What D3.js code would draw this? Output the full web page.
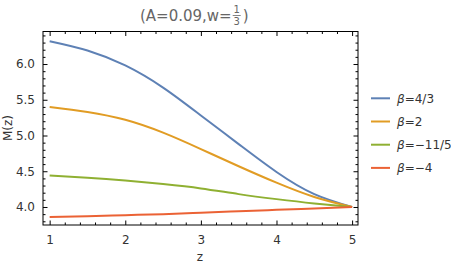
<!DOCTYPE html>
<html>
<head>
<meta charset="utf-8">
<script src="https://cdn.jsdelivr.net/npm/d3@7"></script>
<style>
body { margin: 0; background: #fff; }
text { font-family: "DejaVu Sans", sans-serif; }
</style>
</head>
<body>
<div id="chart"></div>
<script>
// values
var zValues = [1, 1.5, 2, 2.5, 3, 3.5, 4, 4.5, 5];
var seriesNames = ["4/3", "2", "\u221211/5", "\u22124"];
var beta43 = [6.32, 6.19, 5.98, 5.67, 5.28, 4.88, 4.49, 4.18, 4.00];
var beta2 = [5.40, 5.33, 5.22, 5.04, 4.81, 4.57, 4.34, 4.14, 4.00];
var betaM115 = [4.44, 4.41, 4.37, 4.32, 4.26, 4.18, 4.11, 4.05, 4.00];
var betaM4 = [3.86, 3.87, 3.885, 3.90, 3.92, 3.94, 3.96, 3.98, 4.00];
var xTicks = [1, 2, 3, 4, 5];
var yTicks = [4.0, 4.5, 5.0, 5.5, 6.0];

function main(){
    var canvasWidth = 451;
    var canvasHeight = 267;
    var colors = ["#5E81B5", "#E19C24", "#8FB032", "#EB6235"];
    var allSeries = [beta43, beta2, betaM115, betaM4];

    var svg = d3.select("#chart").append("svg")
        .attr("width", canvasWidth)
        .attr("height", canvasHeight);

    var left = 43, right = 358, top = 31.5, bottom = 225;

    var xScale = d3.scaleLinear().domain([0.912, 5.078]).range([left, right]);
    var yScale = d3.scaleLinear().domain([3.748, 6.455]).range([bottom, top]);

    // title, with a stacked 1/3
    var title = svg.append("text")
        .attr("x", 140)
        .attr("y", 21)
        .attr("font-size", "15px")
        .attr("fill", "#666")
        .text("(A=0.09,w=");
    var tw = title.node().getComputedTextLength();
    var fx = 140 + tw + 5;
    svg.append("text").attr("x", fx).attr("y", 13).attr("text-anchor", "middle")
        .attr("font-size", "10px").attr("fill", "#666").text("1");
    svg.append("line").attr("x1", fx - 4).attr("x2", fx + 4).attr("y1", 15.5).attr("y2", 15.5)
        .attr("stroke", "#666").attr("stroke-width", 0.8);
    svg.append("text").attr("x", fx).attr("y", 25).attr("text-anchor", "middle")
        .attr("font-size", "10px").attr("fill", "#666").text("3");
    svg.append("text").attr("x", fx + 6).attr("y", 21).attr("font-size", "15px")
        .attr("fill", "#666").text(")");

    // lines
    var line = d3.line()
        .x(function(d, i) { return xScale(zValues[i]); })
        .y(function(d) { return yScale(d); })
        .curve(d3.curveNatural);

    allSeries.forEach(function(s, k) {
        svg.append("path")
            .datum(s)
            .attr("d", line)
            .attr("fill", "none")
            .attr("stroke", colors[k])
            .attr("stroke-width", 2);
    });

    // frame
    svg.append("rect")
        .attr("x", left).attr("y", top)
        .attr("width", right - left).attr("height", bottom - top)
        .attr("fill", "none").attr("stroke", "#000").attr("stroke-width", 1);

    // bottom / top axes (ticks inward)
    var xMinor = d3.range(1, 5.01, 0.2).filter(function(v) { return Math.abs(v - Math.round(v)) > 0.01; });
    svg.append("g")
        .attr("transform", "translate(0," + bottom + ")")
        .call(d3.axisBottom(xScale).tickValues(xMinor).tickSize(-2.5).tickFormat(""))
        .call(function(g) { g.select(".domain").remove(); });
    svg.append("g")
        .attr("transform", "translate(0," + bottom + ")")
        .call(d3.axisBottom(xScale).tickValues(xTicks).tickSize(-4.5).tickPadding(10).tickFormat(d3.format("d")))
        .call(function(g) {
            g.select(".domain").remove();
            g.selectAll("text").attr("font-size", "12px").attr("fill", "#333").attr("font-family", "DejaVu Sans");
        });
    svg.append("g")
        .attr("transform", "translate(0," + top + ")")
        .call(d3.axisTop(xScale).tickValues(xMinor).tickSize(-2.5).tickFormat(""))
        .call(function(g) { g.select(".domain").remove(); });
    svg.append("g")
        .attr("transform", "translate(0," + top + ")")
        .call(d3.axisTop(xScale).tickValues(xTicks).tickSize(-4.5).tickFormat(""))
        .call(function(g) { g.select(".domain").remove(); });

    // left / right axes
    var yMinor = d3.range(3.8, 6.41, 0.1).filter(function(v) { return Math.abs(v * 2 - Math.round(v * 2)) > 0.01; });
    svg.append("g")
        .attr("transform", "translate(" + left + ",0)")
        .call(d3.axisLeft(yScale).tickValues(yMinor).tickSize(-2.5).tickFormat(""))
        .call(function(g) { g.select(".domain").remove(); });
    svg.append("g")
        .attr("transform", "translate(" + left + ",0)")
        .call(d3.axisLeft(yScale).tickValues(yTicks).tickSize(-4.5).tickPadding(8).tickFormat(d3.format(".1f")))
        .call(function(g) {
            g.select(".domain").remove();
            g.selectAll("text").attr("font-size", "12px").attr("fill", "#333").attr("font-family", "DejaVu Sans");
        });
    svg.append("g")
        .attr("transform", "translate(" + right + ",0)")
        .call(d3.axisRight(yScale).tickValues(yMinor).tickSize(-2.5).tickFormat(""))
        .call(function(g) { g.select(".domain").remove(); });
    svg.append("g")
        .attr("transform", "translate(" + right + ",0)")
        .call(d3.axisRight(yScale).tickValues(yTicks).tickSize(-4.5).tickFormat(""))
        .call(function(g) { g.select(".domain").remove(); });

    // axis labels
    svg.append("text")
        .attr("x", 200).attr("y", 261)
        .attr("text-anchor", "middle")
        .attr("font-size", "12px").attr("fill", "#333")
        .text("z");
    svg.append("text")
        .attr("transform", "translate(12,128) rotate(-90)")
        .attr("text-anchor", "middle")
        .attr("font-size", "12px").attr("fill", "#333")
        .text("M(z)");

    // legend
    var legend = svg.append("g");
    seriesNames.forEach(function(name, k) {
        var y = 98.3 + k * 23.2;
        legend.append("line")
            .attr("x1", 371).attr("x2", 390)
            .attr("y1", y).attr("y2", y)
            .attr("stroke", colors[k]).attr("stroke-width", 2);
        var t = legend.append("text")
            .attr("x", 397).attr("y", y + 4.5)
            .attr("font-size", "12px").attr("fill", "#333");
        t.append("tspan").attr("font-style", "italic").text("\u03b2");
        t.append("tspan").text("=" + name);
    });
}

main()
</script>
</body>
</html>
